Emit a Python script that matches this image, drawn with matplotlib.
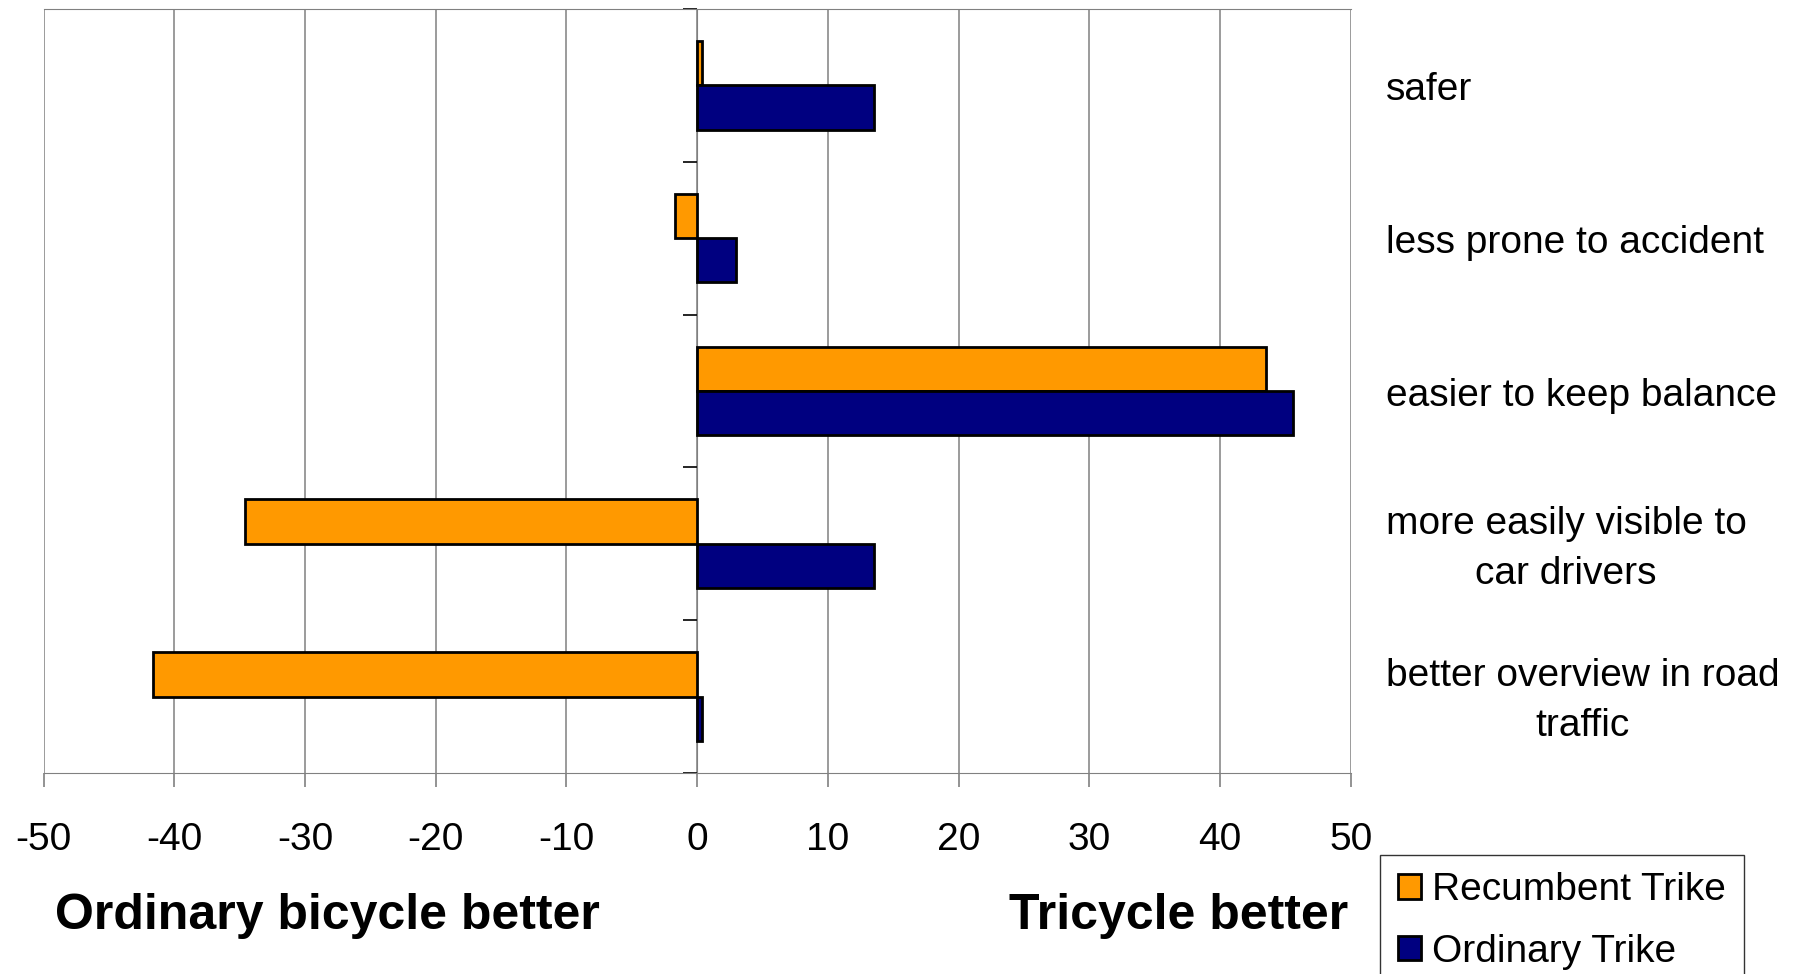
import numpy as np
import matplotlib
matplotlib.use("Agg")
import matplotlib.pyplot as plt
from matplotlib.transforms import ScaledTranslation

plt.rcParams['font.family'] = ['Liberation Sans', 'DejaVu Sans']

categories = ["safer", "less prone to accident", "easier to keep balance",
              "more easily visible to\ncar drivers", "better overview in road\ntraffic"]
recumbent = [0.4, -1.7, 43.5, -34.6, -41.6]
ordinary = [13.5, 3.0, 45.6, 13.5, 0.4]
series_names = ["Recumbent Trike", "Ordinary Trike"]
colors = ["#FF9900", "#000080"]
xticks = np.arange(-50, 51, 10)

fig = plt.figure(figsize=(18, 9.74), dpi=100)
ax = fig.add_axes([0.0242, 0.2064, 0.7263, 0.7844])

y = np.arange(len(categories))
h = 0.29
ax.barh(y - h / 2, recumbent, height=h, color=colors[0], edgecolor="black",
        linewidth=2.0, zorder=3, label=series_names[0])
ax.barh(y + h / 2, ordinary, height=h, color=colors[1], edgecolor="black",
        linewidth=2.0, zorder=3, label=series_names[1])

ax.set_xlim(-50, 50)
ax.set_ylim(len(categories) - 0.5, -0.5)
ax.set_xticks(xticks)
ax.set_xticklabels([str(v) for v in xticks], fontsize=28)
ax.xaxis.grid(True, color="#808080", linewidth=1.1, zorder=0)
ax.set_axisbelow(True)

# category axis sits at x = 0, ticks at category boundaries
ax.spines['left'].set_position(('data', 0))
ax.spines['left'].set_color("#808080")
ax.spines['left'].set_zorder(2)
ax.spines['right'].set_visible(False)
ax.spines['top'].set_color("#808080")
ax.spines['bottom'].set_color("#808080")
ax.set_yticks(np.arange(len(categories) + 1) - 0.5)
ax.set_yticklabels([])
ax.tick_params(axis='y', direction='out', length=10, width=1.2, color="black")
ax.tick_params(axis='x', direction='out', length=10, width=1.2, color="#808080", pad=25)

shift = ax.get_yaxis_transform() + ScaledTranslation(0, -3.5 / 72, fig.dpi_scale_trans)
for i, lab in enumerate(categories):
    ax.text(1.0267, i, lab, transform=shift, ha='left',
            va='center', multialignment='center', fontsize=28, linespacing=1.5)

fig.text(55 / 1800, 1 - 916 / 974, "Ordinary bicycle better", ha='left', va='center',
         fontsize=36, fontweight='bold')
fig.text(1348 / 1800, 1 - 916 / 974, "Tricycle better", ha='right', va='center',
         fontsize=36, fontweight='bold')

leg = fig.legend(loc='upper left', bbox_to_anchor=(1380 / 1800, 1 - 855 / 974),
                 fontsize=28, frameon=True, fancybox=False, edgecolor="black",
                 handlelength=0.6, handleheight=0.6, handletextpad=0.3,
                 labelspacing=0.65, borderpad=0.45, borderaxespad=0)
leg.get_frame().set_linewidth(1.0)

fig.savefig("out.png", dpi=100)
